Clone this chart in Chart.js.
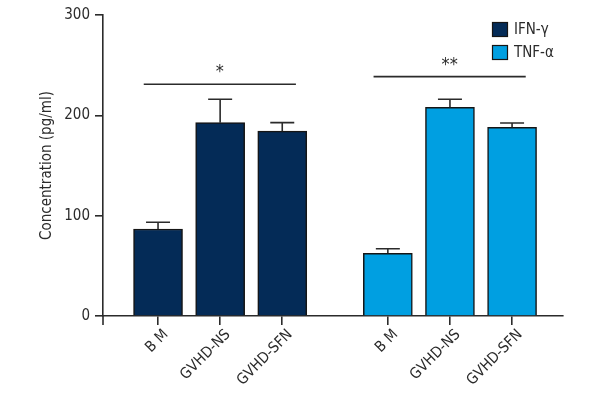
<!DOCTYPE html>
<html>
<head>
<meta charset="utf-8">
<script src="https://cdn.jsdelivr.net/npm/chart.js@4.4.1/dist/chart.umd.min.js"></script>
<style>
  html, body { margin: 0; padding: 0; background: #ffffff; }
  #wrap { width: 600px; height: 400px; }
</style>
</head>
<body>
<div id="wrap"><canvas id="c" width="600" height="400"></canvas></div>
<script>
// ---- data ----
const categories = ["B M", "GVHD-NS", "GVHD-SFN"];
const seriesNames = ["IFN-γ", "TNF-α"];
const ifnValues = [86.7, 192.7, 184.2];
const ifnErrors = [6.7, 23.3, 8.5];
const tnfValues = [62.5, 208, 188];
const tnfErrors = [4.5, 8, 4.4];
const groupPositions = [[0, 1, 2], [3.7, 4.7, 5.7]];
const sigLabels = ["*", "**"];
const sigLevels = [231, 238.6];
const yTicks = [0, 100, 200, 300];

const FONT = "'Liberation Sans Narrow', 'DejaVu Sans Condensed', 'Arial Narrow', sans-serif";
const FS = 15;
const INK = '#2b2b2b';
const colors = ['#042b57', '#009fe1'];

const tickPositions = groupPositions[0].concat(groupPositions[1]);
const tickLabels = categories.concat(categories);
const allErrors = [ifnErrors, tnfErrors];

const datasets = [ifnValues, tnfValues].map((vals, s) => ({
  label: seriesNames[s],
  data: vals.map((v, i) => ({ x: groupPositions[s][i], y: v })),
  backgroundColor: colors[s],
  borderColor: '#151515',
  borderWidth: 1.5,
  borderSkipped: 'bottom',
  grouped: false,
  barThickness: 49
}));

const extras = {
  id: 'extras',
  afterDatasetsDraw(chart) {
    const ctx = chart.ctx;
    const xs = chart.scales.x, ys = chart.scales.y;
    const a = chart.chartArea;
    ctx.save();
    ctx.strokeStyle = INK;
    ctx.lineWidth = 1.6;
    // y axis stub below the x axis
    ctx.beginPath();
    ctx.moveTo(a.left, a.bottom);
    ctx.lineTo(a.left, a.bottom + 9);
    ctx.stroke();
    // error bars
    chart.data.datasets.forEach((ds, s) => {
      const meta = chart.getDatasetMeta(s);
      meta.data.forEach((el, i) => {
        const top = ys.getPixelForValue(ds.data[i].y + allErrors[s][i]);
        ctx.beginPath();
        ctx.moveTo(el.x, el.y);
        ctx.lineTo(el.x, top);
        ctx.moveTo(el.x - 12, top);
        ctx.lineTo(el.x + 12, top);
        ctx.stroke();
      });
    });
    // significance lines
    ctx.fillStyle = INK;
    ctx.font = '18px ' + FONT;
    ctx.textAlign = 'center';
    ctx.textBaseline = 'alphabetic';
    groupPositions.forEach((pos, g) => {
      const x1 = xs.getPixelForValue(pos[0] - 0.23);
      const x2 = xs.getPixelForValue(pos[pos.length - 1] + 0.22);
      const y = ys.getPixelForValue(sigLevels[g]);
      ctx.beginPath();
      ctx.moveTo(x1, y);
      ctx.lineTo(x2, y);
      ctx.stroke();
      ctx.fillText(sigLabels[g], (x1 + x2) / 2, y - 7);
    });
    // legend
    ctx.font = FS + 'px ' + FONT;
    ctx.textAlign = 'left';
    ctx.textBaseline = 'middle';
    chart.data.datasets.forEach((ds, s) => {
      const bx = a.right - 71, by = a.top + 7 + s * 23;
      ctx.fillStyle = ds.backgroundColor;
      ctx.fillRect(bx, by, 16, 15);
      ctx.lineWidth = 1.2;
      ctx.strokeStyle = '#151515';
      ctx.strokeRect(bx + 0.5, by + 0.5, 15, 14);
      ctx.fillStyle = INK;
      ctx.fillText(ds.label, bx + 22, by + 8);
    });
    ctx.restore();
  }
};

new Chart(document.getElementById('c'), {
  type: 'bar',
  data: { datasets },
  options: {
    responsive: false,
    animation: false,
    layout: { padding: { top: 15, right: 37, left: 0, bottom: 0 } },
    plugins: { legend: { display: false }, tooltip: { enabled: false } },
    scales: {
      x: {
        type: 'linear',
        offset: false,
        min: -0.886,
        max: 6.52,
        afterBuildTicks(scale) { scale.ticks = tickPositions.map(v => ({ value: v })); },
        afterFit(scale) { scale.height = 84; },
        ticks: {
          autoSkip: false,
          minRotation: 45,
          maxRotation: 45,
          padding: 1,
          labelOffset: 8,
          color: INK,
          font: { family: FONT, size: FS },
          callback: (v, i) => tickLabels[i]
        },
        grid: { display: true, offset: false, drawOnChartArea: false, drawTicks: true, tickLength: 9, color: INK, lineWidth: 1.6 },
        border: { display: true, color: INK, width: 1.6 }
      },
      y: {
        min: 0,
        max: 300,
        afterBuildTicks(scale) { scale.ticks = yTicks.map(v => ({ value: v })); },
        afterFit(scale) { scale.width = 103; },
        ticks: { padding: 5, color: INK, font: { family: FONT, size: FS } },
        grid: { display: true, drawOnChartArea: false, drawTicks: true, tickLength: 8, color: INK, lineWidth: 1.6 },
        border: { display: true, color: INK, width: 1.6 },
        title: {
          display: true,
          text: 'Concentration (pg/ml)',
          color: INK,
          font: { family: FONT, size: FS },
          padding: { top: 38, bottom: 0 }
        }
      }
    }
  },
  plugins: [extras]
});
</script>
</body>
</html>
